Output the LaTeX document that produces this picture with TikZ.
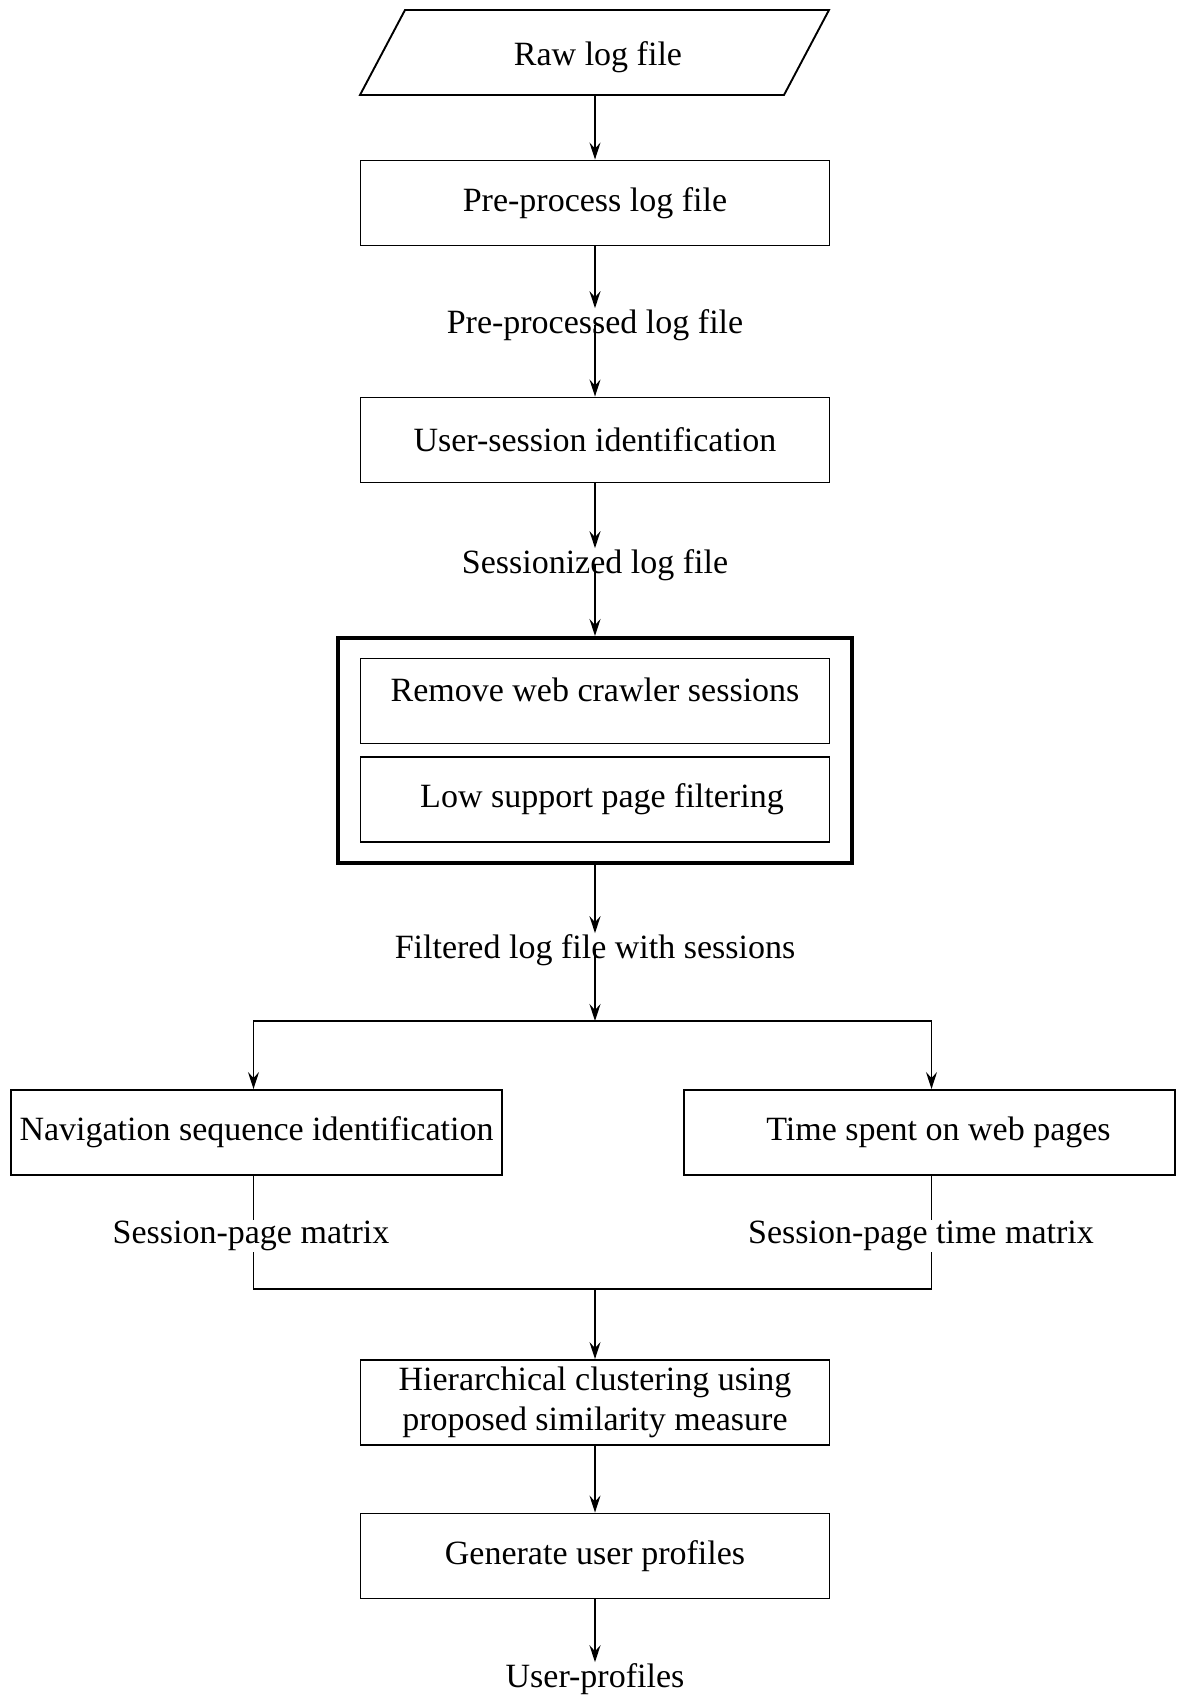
\documentclass[tikz,border=0pt]{standalone}
\usepackage{fontspec}
\setmainfont{Liberation Serif}
\usetikzlibrary{arrows.meta}
\begin{document}
\begin{tikzpicture}[x=1pt,y=-1pt,
  every node/.style={font=\fontsize{34}{40}\selectfont},
  flowtip/.tip={Stealth[length=17pt,width=11pt,inset=6pt]},
  flow/.style={line width=1.9pt},
  arr/.style={flow,-flowtip},
  twoarr/.style={flow,flowtip-flowtip},
  proc/.style={draw,line width=1.9pt,minimum width=469pt,minimum height=85pt,inner sep=0pt,align=center},
  wideproc/.style={proc,minimum width=491pt},
  frame/.style={draw,line width=4pt,minimum width=514pt,minimum height=225pt,inner sep=0pt},
  datalabel/.style={inner sep=1pt},
]
\useasboundingbox (0,0) rectangle (1184,1695);

% input data (parallelogram)
\node (raw) at (598,57) {Raw log file};
\draw[flow] (360,95) -- (405,10) -- (829,10) -- (784,95) -- cycle;
\coordinate (rawb) at (595,95);

% main chain
\node[proc] (pre) at (595,203) {Pre-process log file};
\node[datalabel] (ppl) at (595,325) {Pre-processed log file};
\node[proc] (us) at (595,440) {User-session identification};
\node[datalabel] (sel) at (595,565) {Sessionized log file};

% filtering stage
\node[frame] (filt) at (595,750.5) {};
\node[proc] (crawl) at (595,701) {\raisebox{11pt}[\height][\depth]{Remove web crawler sessions}};
\node[proc] (low) at (595,799.5) {\hspace*{14pt}Low support page filtering};
\node[datalabel] (fl) at (595,950) {Filtered log file with sessions};
\coordinate (split) at (595,1021);

% parallel branches
\node[wideproc] (nav) at (256.5,1132.5) {Navigation sequence identification};
\node[wideproc] (time) at (929.5,1132.5) {\hspace*{18pt}Time spent on web pages};
\node[datalabel] (spm) at (251,1236) {Session-page matrix};
\node[datalabel] (spt) at (921,1236) {Session-page time matrix};
\coordinate (navin) at ([xshift=-3pt]nav.north);
\coordinate (timein) at ([xshift=2pt]time.north);
\coordinate (merge) at (595,1289);

% clustering and profiles
\node[proc] (hc) at (595,1402.5) {Hierarchical clustering using\\proposed similarity measure};
\node[proc] (gen) at (595,1556) {Generate user profiles};
\node[datalabel] (up) at (595,1679) {User-profiles};

% connectors
\draw[arr] (rawb) -- (pre);
\draw[arr] (pre) -- (ppl);
\draw[arr] (ppl.center) -- (us);
\draw[arr] (us) -- (sel);
\draw[arr] (sel.center) -- (filt);
\draw[arr] (filt) -- (fl);
\draw[arr] (fl.center) -- (split);
\draw[twoarr] (navin) |- (split) -| (timein);
\draw[flow] (navin |- nav.south) -- (navin |- spm.north);
\draw[flow] (timein |- time.south) -- (timein |- spt.north);
\draw[flow] (navin |- spm.south) |- (merge) -| (timein |- spt.south);
\draw[arr] (merge) -- (hc);
\draw[arr] (hc) -- (gen);
\draw[arr] (gen) -- (up);
\end{tikzpicture}
\end{document}
